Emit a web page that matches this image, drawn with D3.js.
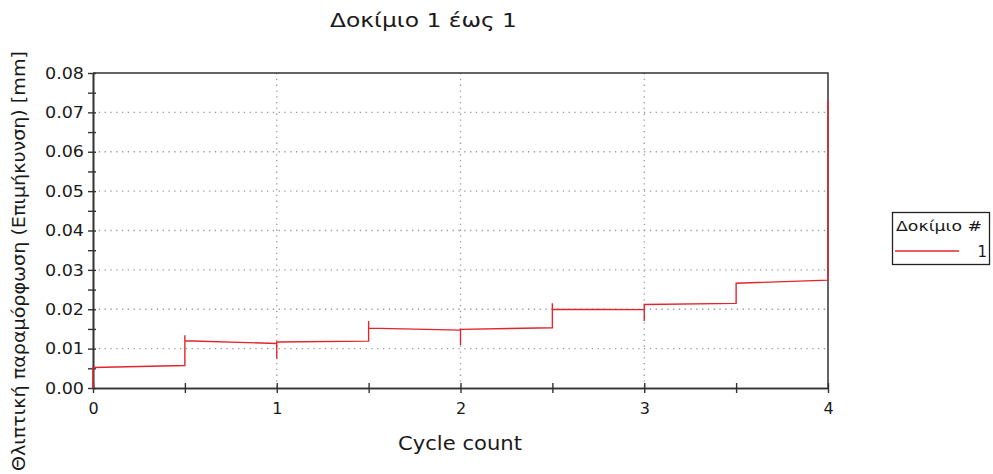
<!DOCTYPE html>
<html>
<head>
<meta charset="utf-8">
<script src="https://cdn.jsdelivr.net/npm/d3@7"></script>
<style>
  html, body { margin: 0; padding: 0; background: #fff; }
  svg { display: block; font-family: "DejaVu Sans", Verdana, sans-serif; }
</style>
</head>
<body>
<svg id="chart" width="993" height="474"></svg>
<script>
// Deformation trace of specimen 1 over the load cycles
const cycleCount = [0, 0, 0.5, 0.5, 0.5, 1, 1, 1, 1.5, 1.5, 1.5, 2, 2, 2, 2.5, 2.5, 2.5, 3, 3, 3, 3.5, 3.5, 4, 4];
const deformation = [0, 0.0052, 0.0057, 0.0134, 0.0120, 0.0113, 0.0074, 0.0117, 0.0119, 0.0170, 0.0152, 0.0147, 0.0109, 0.0149, 0.0153, 0.0215, 0.0200, 0.0199, 0.0170, 0.0212, 0.0215, 0.0266, 0.0274, 0.0731];

const xMajorTicks = [0, 1, 2, 3, 4];
const xMinorTicks = [0.5, 1.5, 2.5, 3.5];
const yMajorTicks = [0, 0.01, 0.02, 0.03, 0.04, 0.05, 0.06, 0.07, 0.08];
const yMinorTicks = [0.005, 0.015, 0.025, 0.035, 0.045, 0.055, 0.065, 0.075];

const titleText = "Δοκίμιο 1 έως 1";
const xLabel = "Cycle count";
const yLabel = "Θλιπτική παραμόρφωση (Επιμήκυνση) [mm]";
const legendTitle = "Δοκίμιο #";
const seriesNames = ["1"];

const svg = d3.select("#chart");
const plot = { left: 93, right: 828, top: 73, bottom: 388 };
const red = "#e3262d";
const axisColor = "#333";
const textColor = "#1a1a1a";

const x = d3.scaleLinear().domain([0, 4]).range([plot.left, plot.right]);
const y = d3.scaleLinear().domain([0, 0.08]).range([plot.bottom, plot.top]);

// dotted grid
const grid = svg.append("g").attr("stroke", "#9a9a9a").attr("stroke-width", 1.3)
  .attr("stroke-dasharray", "1.3,4.5");
grid.selectAll("line.h").data(yMajorTicks.filter(d => d > 0 && d < 0.08)).join("line")
  .attr("x1", plot.left).attr("x2", plot.right)
  .attr("y1", d => y(d)).attr("y2", d => y(d));
grid.selectAll("line.v").data(xMajorTicks.filter(d => d > 0 && d < 4)).join("line")
  .attr("y1", plot.top).attr("y2", plot.bottom)
  .attr("x1", d => x(d)).attr("x2", d => x(d));

// frame: top and right edges
svg.append("path")
  .attr("d", `M${plot.left},${plot.top}H${plot.right}V${plot.bottom}`)
  .attr("fill", "none").attr("stroke", axisColor).attr("stroke-width", 1.5);

// axes
const yAxis = d3.axisLeft(y).tickValues(yMajorTicks).tickFormat(d3.format(".2f"))
  .tickSizeInner(6).tickSizeOuter(0).tickPadding(3);
const gy = svg.append("g").attr("transform", `translate(${plot.left},0)`).call(yAxis);
const yMinor = d3.axisLeft(y).tickValues(yMinorTicks).tickFormat("").tickSizeInner(6).tickSizeOuter(0);
const gym = svg.append("g").attr("transform", `translate(${plot.left},0)`).call(yMinor);

const xAxis = d3.axisBottom(x).tickValues(xMajorTicks).tickFormat(d3.format("d"))
  .tickSizeInner(5).tickSizeOuter(0).tickPadding(10);
const gx = svg.append("g").attr("transform", `translate(0,${plot.bottom})`).call(xAxis);
const xMinor = d3.axisBottom(x).tickValues(xMinorTicks).tickFormat("").tickSizeInner(5).tickSizeOuter(0);
const gxm = svg.append("g").attr("transform", `translate(0,${plot.bottom})`).call(xMinor);

[gy, gym, gx, gxm].forEach(g => {
  g.select(".domain").attr("stroke", axisColor).attr("stroke-width", 1.6);
  g.selectAll(".tick line").attr("stroke", axisColor).attr("stroke-width", 1.4);
  g.selectAll(".tick text").attr("fill", textColor).style("font-size", "16px")
    .style("font-family", "'DejaVu Sans', Verdana, sans-serif");
});
// wider tick numerals on the value axis
gy.selectAll(".tick text").attr("textLength", 39).attr("lengthAdjust", "spacingAndGlyphs");
// ticks cross the axis slightly
gy.selectAll(".tick line").attr("x2", -5).attr("x1", 3);
gym.selectAll(".tick line").attr("x2", -5).attr("x1", 3);
gx.selectAll(".tick line").attr("y1", -5).attr("y2", 5);
gxm.selectAll(".tick line").attr("y1", -5).attr("y2", 5);
gx.selectAll(".tick text").attr("dy", "0.71em");

// data trace
const pts = cycleCount.map((c, i) => [c, deformation[i]]);
svg.append("path")
  .datum(pts)
  .attr("fill", "none")
  .attr("stroke", red)
  .attr("stroke-width", 1.4)
  .attr("d", d3.line().x(d => x(d[0])).y(d => y(d[1])));

// title and axis labels
svg.append("text").attr("x", 330).attr("y", 27)
  .attr("textLength", 187).attr("lengthAdjust", "spacingAndGlyphs")
  .style("font-size", "20px").attr("fill", textColor).text(titleText);
svg.append("text").attr("x", 398).attr("y", 450)
  .attr("textLength", 124).attr("lengthAdjust", "spacingAndGlyphs")
  .style("font-size", "19px").attr("fill", textColor).text(xLabel);
svg.append("text")
  .attr("transform", "translate(25,471) rotate(-90)")
  .attr("textLength", 420).attr("lengthAdjust", "spacingAndGlyphs")
  .style("font-size", "17px").attr("fill", textColor).text(yLabel);

// legend
const lg = svg.append("g");
lg.append("rect").attr("x", 892.5).attr("y", 212.5).attr("width", 97).attr("height", 52)
  .attr("fill", "#fff").attr("stroke", "#222").attr("stroke-width", 1.3);
lg.append("text").attr("x", 896).attr("y", 231)
  .attr("textLength", 86).attr("lengthAdjust", "spacingAndGlyphs")
  .style("font-size", "14px").attr("fill", textColor).text(legendTitle);
seriesNames.forEach((name, i) => {
  const ly = 251 + i * 18;
  lg.append("line").attr("x1", 895).attr("x2", 959).attr("y1", ly).attr("y2", ly)
    .attr("stroke", red).attr("stroke-width", 1.4);
  lg.append("text").attr("x", 987).attr("y", ly + 6).attr("text-anchor", "end")
    .style("font-size", "15px").attr("fill", textColor).text(name);
});
</script>
</body>
</html>
